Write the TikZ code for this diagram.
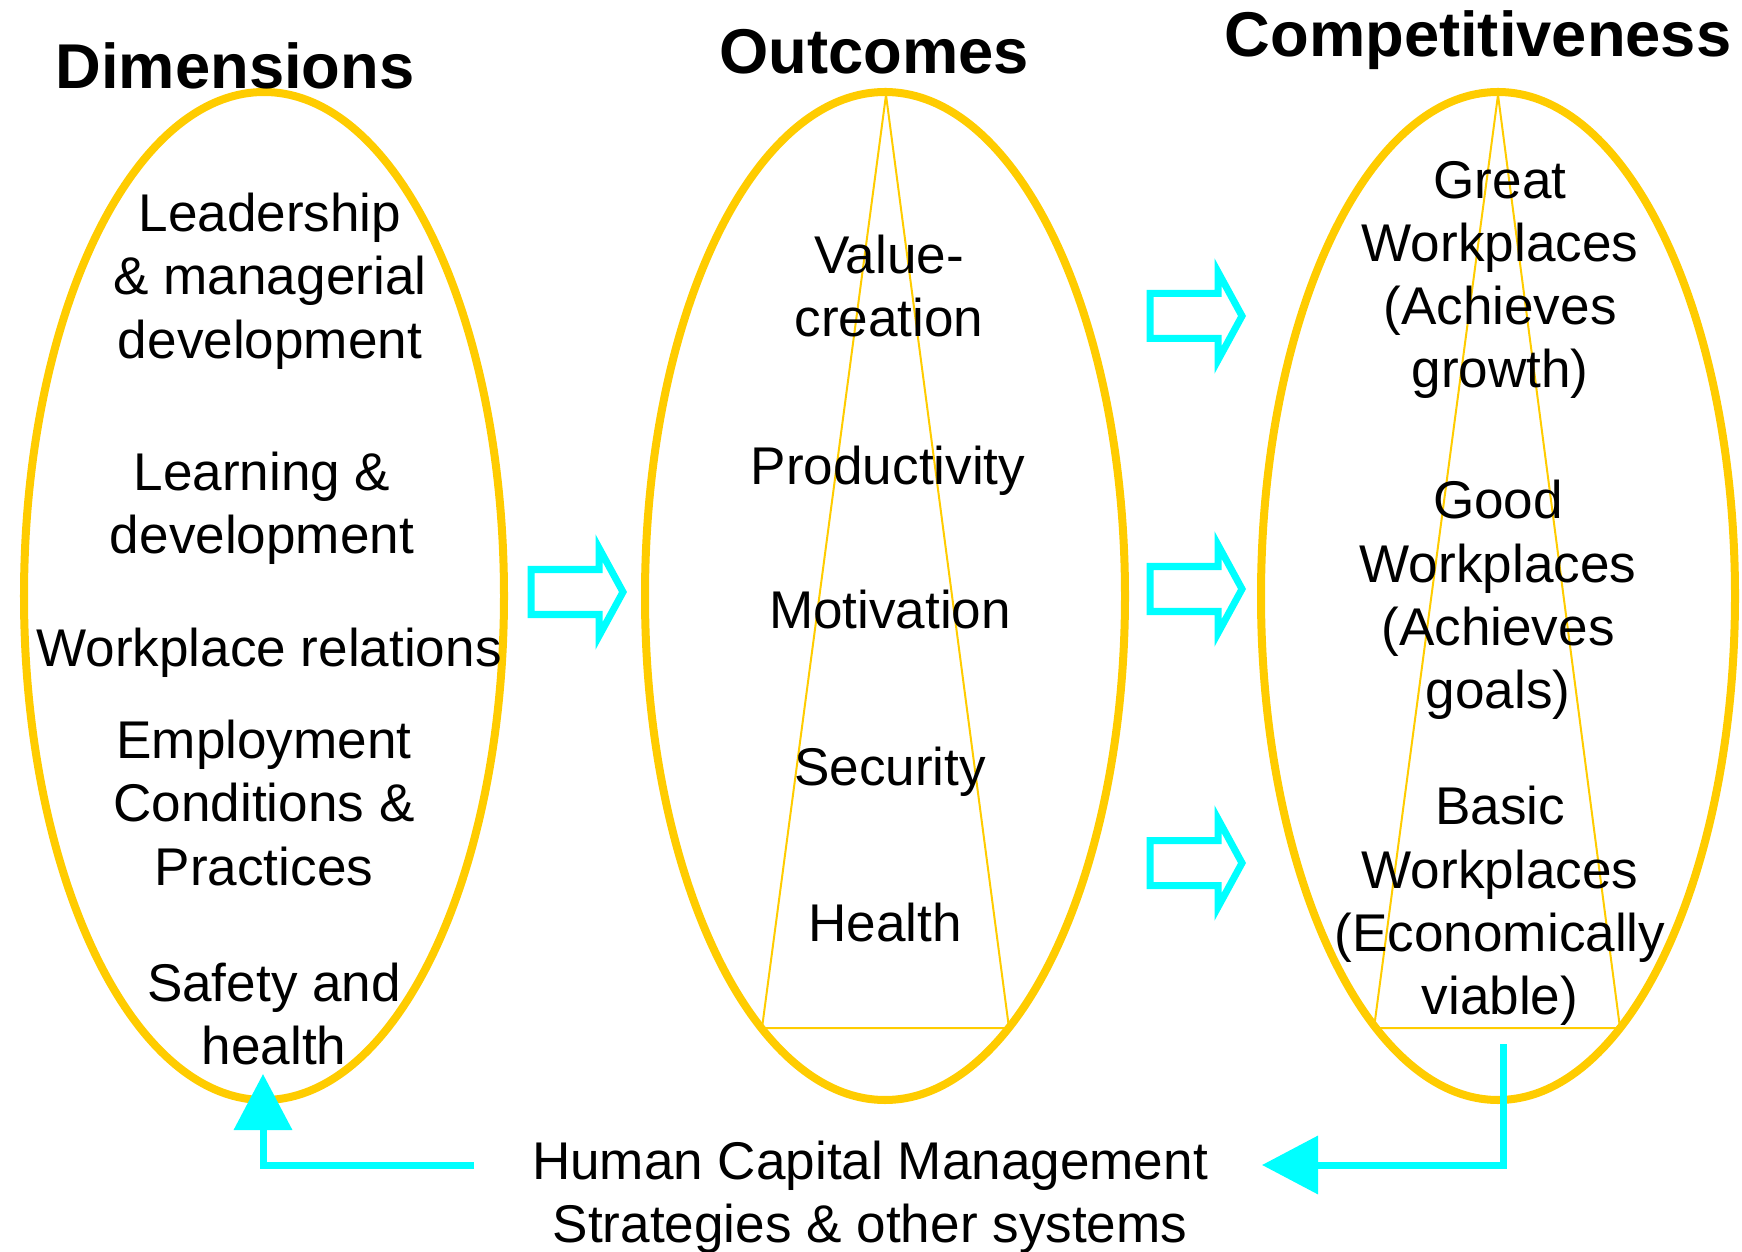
\documentclass[tikz,border=0pt]{standalone}
\usepackage{fontspec}
\setmainfont{Liberation Sans}
\usetikzlibrary{arrows.meta}

\definecolor{gold}{HTML}{FFCC00}
\definecolor{aqua}{HTML}{00FFFF}

\tikzset{
	oval/.style={draw=gold, line width=0.08cm},
	wedge/.style={draw=gold, line width=0.02cm},
	item/.style={align=center, inner sep=0pt, font=\fontsize{15.1}{18}\selectfont},
	heading/.style={inner sep=0pt, font=\fontsize{18}{21}\selectfont\bfseries},
	loop/.style={draw=aqua, line width=0.07cm, -{Triangle[length=0.56cm, width=0.57cm]}},
	pics/fatarrow/.style={code={
		\draw[aqua, line width=0.07cm] (-45,-22.5) -- (23,-22.5) -- (23,-44) -- (47,0)
			-- (23,44) -- (23,22.5) -- (-45,22.5) -- cycle;
	}},
}

\begin{document}
\begin{tikzpicture}[x=0.01cm, y=-0.01cm]
		\useasboundingbox (0,0) rectangle (1742,1252);

		% the three ovals
		\draw[oval] (264,596) ellipse [x radius=240, y radius=504];
		\draw[oval] (885,596) ellipse [x radius=240, y radius=504];
		\draw[oval] (1498,596) ellipse [x radius=237, y radius=504];

		% thin pyramids inside
		\draw[wedge] (886,95) -- (762,1028) -- (1009,1028) -- cycle;
		\draw[wedge] (1498,95) -- (1374,1028) -- (1620,1028) -- cycle;

		% headings
		\draw (235,66) node [heading] (dim) {Dimensions};
		\draw (874,52) node [heading] (out) {Outcomes};
		\draw (1478,40) node [heading] (comp) {Competitiveness};

		% dimensions
		\draw (270,281) node [item] (lead) {Leadership\\\& managerial\\development};
		\draw (262,508) node [item] (learn) {Learning \&\\development};
		\draw (269,653) node [item] (rel) {Workplace relations};
		\draw (264,803) node [item] (empl) {Employment\\Conditions \&\\Practices};
		\draw (274,1014) node [item] (safe) {Safety and\\health};

		% outcomes
		\draw (889,286) node [item] (value) {Value-\\creation};
		\draw (888,471) node [item] (prod) {Productivity};
		\draw (890,610) node [item] (motiv) {Motivation};
		\draw (890,772) node [item] (secur) {Security};
		\draw (885,923) node [item] (health) {Health};

		% workplaces
		\draw (1500,280) node [item] (great) {Great\\Workplaces\\(Achieves\\growth)};
		\draw (1498,600) node [item] (good) {Good\\Workplaces\\(Achieves\\goals)};
		\draw (1500,906) node [item] (basic) {Basic\\Workplaces\\(Economically\\viable)};

		% block arrows between the ovals
		\pic at (576,592) {fatarrow};
		\foreach \y in {316,589,863}
			\pic at (1195,\y) {fatarrow};

		% feedback loop
		\draw (870,1197) node [item] (hcm) {Human Capital Management\\Strategies \& other systems};
		\coordinate (fb in) at (1503,1044);
		\coordinate (fb out) at (1262,1165);
		\coordinate (fb back) at (474,1165);
		\coordinate (fb tip) at (263,1074);
		\draw[loop] (fb in) |- (fb out);
		\draw[loop] (fb back) -| (fb tip);
	\end{tikzpicture}
\end{document}
